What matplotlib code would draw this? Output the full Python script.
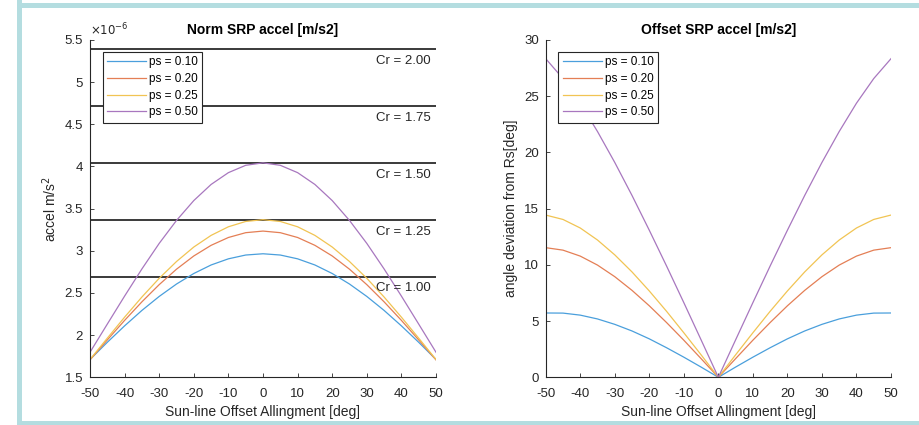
import matplotlib.pyplot as plt
from matplotlib.patches import Rectangle

# offset angle between sun line and panel normal [deg]
theta = [-50, -45, -40, -35, -30, -25, -20, -15, -10, -5, 0,
         5, 10, 15, 20, 25, 30, 35, 40, 45, 50]

ps_labels = ["ps = 0.10", "ps = 0.20", "ps = 0.25", "ps = 0.50"]

# norm of SRP acceleration [1e-6 m/s^2]
norm_010 = [1.711, 1.915, 2.110, 2.293, 2.459, 2.606, 2.731, 2.832, 2.905, 2.950, 2.965,
            2.950, 2.905, 2.832, 2.731, 2.606, 2.459, 2.293, 2.110, 1.915, 1.711]
norm_020 = [1.707, 1.943, 2.175, 2.395, 2.599, 2.782, 2.939, 3.065, 3.158, 3.215, 3.234,
            3.215, 3.158, 3.065, 2.939, 2.782, 2.599, 2.395, 2.175, 1.943, 1.707]
norm_025 = [1.711, 1.964, 2.213, 2.452, 2.674, 2.873, 3.045, 3.183, 3.285, 3.348, 3.369,
            3.348, 3.285, 3.183, 3.045, 2.873, 2.674, 2.452, 2.213, 1.964, 1.711]
norm_050 = [1.797, 2.131, 2.463, 2.785, 3.088, 3.360, 3.596, 3.787, 3.927, 4.014, 4.043,
            4.014, 3.927, 3.787, 3.596, 3.360, 3.088, 2.785, 2.463, 2.131, 1.797]

# deviation of SRP direction from sun line [deg]
dev_010 = [5.72, 5.71, 5.53, 5.19, 4.71, 4.12, 3.42, 2.63, 1.79, 0.91, 0.0,
           0.91, 1.79, 2.63, 3.42, 4.12, 4.71, 5.19, 5.53, 5.71, 5.72]
dev_020 = [11.53, 11.31, 10.78, 9.98, 8.95, 7.73, 6.36, 4.87, 3.30, 1.66, 0.0,
           1.66, 3.30, 4.87, 6.36, 7.73, 8.95, 9.98, 10.78, 11.31, 11.53]
dev_025 = [14.43, 14.04, 13.28, 12.21, 10.89, 9.37, 7.68, 5.87, 3.96, 2.00, 0.0,
           2.00, 3.96, 5.87, 7.68, 9.37, 10.89, 12.21, 13.28, 14.04, 14.43]
dev_050 = [28.34, 26.57, 24.38, 21.86, 19.11, 16.17, 13.08, 9.90, 6.64, 3.33, 0.0,
           3.33, 6.64, 9.90, 13.08, 16.17, 19.11, 21.86, 24.38, 26.57, 28.34]

# flat plate reference levels for different Cr
cr_values = [1.00, 1.25, 1.50, 1.75, 2.00]
cr_accel = [2.695, 3.369, 4.043, 4.716, 5.390]

colors = ["#4a9fdc", "#e47f55", "#f1c453", "#a877bf"]
txt = "#262626"

plt.rcParams['font.family'] = ['Liberation Sans', 'DejaVu Sans']
plt.rcParams['axes.unicode_minus'] = False

fig = plt.figure(figsize=(9.2, 4.25), dpi=100)
fig.patch.set_facecolor("white")

# light frame around the figure
frame = "#b4dde0"
fig.add_artist(Rectangle((17/920, 0), 5/920, 1, transform=fig.transFigure, color=frame, lw=0))
fig.add_artist(Rectangle((17/920, 1-8/425), 1, 5/425, transform=fig.transFigure, color=frame, lw=0))
fig.add_artist(Rectangle((17/920, 0), 1, 4/425, transform=fig.transFigure, color=frame, lw=0))

ax1 = fig.add_axes([90/920, 1-377.3/425, 346/920, 337.3/425])
ax2 = fig.add_axes([545.7/920, 1-377.3/425, 345.3/920, 337.3/425])


def style_axes(ax):
    for side in ["top", "right"]:
        ax.spines[side].set_visible(False)
    for side in ["left", "bottom"]:
        ax.spines[side].set_color(txt)
        ax.spines[side].set_linewidth(0.8)
    ax.tick_params(direction="in", length=3, width=0.6, colors=txt,
                   labelsize=9.5, labelcolor=txt)
    ax.tick_params(axis="x", pad=8)
    ax.tick_params(axis="y", pad=5)
    ax.set_xlim(-50, 50)
    ax.set_xticks(range(-50, 51, 10))
    ax.set_xlabel("Sun-line Offset Allingment [deg]", fontsize=10, color=txt,
                  labelpad=3)


# left: SRP acceleration norm
for c, a in zip(cr_values, cr_accel):
    ax1.axhline(a, color="#3a3a3a", lw=1.4, zorder=1)
    ax1.text(48.5, a - 0.07, "Cr = %.2f" % c, ha="right", va="top", fontsize=9.5,
             color=txt)
for ys, col, lab in zip([norm_010, norm_020, norm_025, norm_050], colors, ps_labels):
    ax1.plot(theta, ys, color=col, lw=0.9, label=lab, zorder=2)
style_axes(ax1)
ax1.set_ylim(1.5, 5.5)
ax1.set_yticks([1.5, 2, 2.5, 3, 3.5, 4, 4.5, 5, 5.5])
ax1.set_yticklabels(["1.5", "2", "2.5", "3", "3.5", "4", "4.5", "5", "5.5"])
ax1.set_ylabel("accel m/s$^2$", fontsize=10, color=txt)
ax1.text(0.0, 1.005, r"$\times10^{-6}$", transform=ax1.transAxes, fontsize=8.5,
         color=txt, va="bottom", ha="left")
ax1.set_title("Norm SRP accel [m/s2]", fontsize=10, fontweight="bold", pad=4)

# right: direction deviation
for ys, col, lab in zip([dev_010, dev_020, dev_025, dev_050], colors, ps_labels):
    ax2.plot(theta, ys, color=col, lw=0.9, label=lab)
style_axes(ax2)
ax2.set_ylim(0, 30)
ax2.set_yticks(range(0, 31, 5))
ax2.set_ylabel("angle deviation from Rs[deg]", fontsize=10, color=txt)
ax2.set_title("Offset SRP accel [m/s2]", fontsize=10, fontweight="bold", pad=4)

for ax in (ax1, ax2):
    leg = ax.legend(loc="upper left", bbox_to_anchor=(0.037, 0.964), fontsize=8.5,
                    handlelength=3.3, handletextpad=0.25, borderpad=0.35,
                    labelspacing=0.40, fancybox=False, framealpha=1,
                    borderaxespad=0)
    leg.get_frame().set_edgecolor(txt)
    leg.get_frame().set_linewidth(0.8)
    leg.set_zorder(5)

fig.savefig("out.png", dpi=100, facecolor="white")
